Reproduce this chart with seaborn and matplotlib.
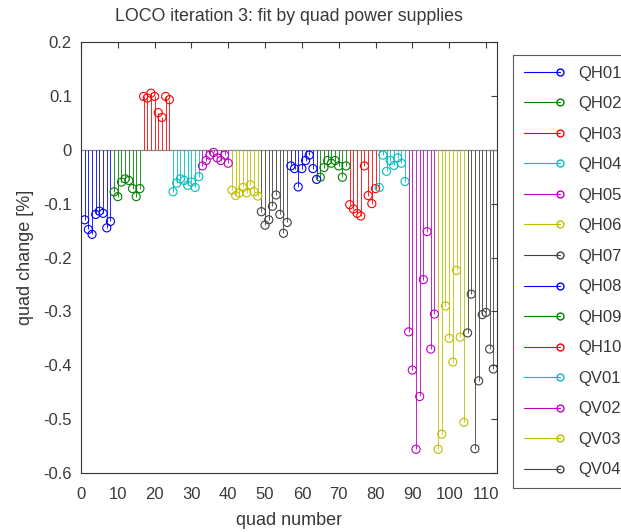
import numpy as np
import pandas as pd
import matplotlib
matplotlib.use("Agg")
import matplotlib.pyplot as plt
from matplotlib.lines import Line2D
from matplotlib.legend_handler import HandlerLine2DCompound
import seaborn as sns

# quad power supply families, 8 quads each
families = ["QH01", "QH02", "QH03", "QH04", "QH05", "QH06", "QH07",
            "QH08", "QH09", "QH10", "QV01", "QV02", "QV03", "QV04"]

qh01 = [-0.13, -0.148, -0.157, -0.12, -0.114, -0.118, -0.145, -0.133]
qh02 = [-0.078, -0.087, -0.06, -0.054, -0.057, -0.072, -0.087, -0.072]
qh03 = [0.099, 0.096, 0.105, 0.099, 0.069, 0.06, 0.099, 0.093]
qh04 = [-0.078, -0.062, -0.054, -0.057, -0.066, -0.06, -0.07, -0.05]
qh05 = [-0.03, -0.02, -0.01, -0.005, -0.015, -0.02, -0.01, -0.025]
qh06 = [-0.075, -0.085, -0.08, -0.07, -0.08, -0.065, -0.078, -0.086]
qh07 = [-0.115, -0.14, -0.13, -0.105, -0.084, -0.12, -0.155, -0.135]
qh08 = [-0.03, -0.035, -0.069, -0.035, -0.02, -0.01, -0.035, -0.055]
qh09 = [-0.051, -0.033, -0.02, -0.025, -0.02, -0.03, -0.051, -0.03]
qh10 = [-0.102, -0.11, -0.118, -0.123, -0.03, -0.085, -0.1, -0.072]
qv01 = [-0.07, -0.01, -0.04, -0.02, -0.029, -0.015, -0.025, -0.059]
qv02 = [-0.338, -0.409, -0.556, -0.458, -0.241, -0.152, -0.37, -0.305]
qv03 = [-0.556, -0.528, -0.29, -0.35, -0.394, -0.224, -0.348, -0.506]
qv04 = [-0.34, -0.268, -0.555, -0.429, -0.306, -0.302, -0.37, -0.407]

values = [qh01, qh02, qh03, qh04, qh05, qh06, qh07,
          qh08, qh09, qh10, qv01, qv02, qv03, qv04]

x_ticks = list(range(0, 111, 10))
y_ticks = [0.2, 0.1, 0, -0.1, -0.2, -0.3, -0.4, -0.5, -0.6]
y_tick_labels = ["0.2", "0.1", "0", "-0.1", "-0.2", "-0.3", "-0.4", "-0.5", "-0.6"]

# classic colour order, cycled over the families
color_order = [(0, 0, 1), (0, 0.5, 0), (1, 0, 0), (0, 0.75, 0.75),
               (0.75, 0, 0.75), (0.75, 0.75, 0), (0.25, 0.25, 0.25)]
palette = {f: color_order[i % len(color_order)] for i, f in enumerate(families)}

rows = []
quad = 1
for fam, vals in zip(families, values):
    for v in vals:
        rows.append({"quad": quad, "change": v, "family": fam})
        quad += 1
df = pd.DataFrame(rows)

sns.set_style("white")
plt.rcParams["font.family"] = ["Liberation Sans", "DejaVu Sans"]
text_col = "#383838"

fig = plt.figure(figsize=(6.21, 5.32), dpi=100)
ax = fig.add_axes([81 / 621, 1 - 473 / 532, 416 / 621, 431 / 532])

# stems
for fam in families:
    sub = df[df["family"] == fam]
    ax.vlines(sub["quad"], 0, sub["change"], colors=[palette[fam]], linewidth=0.6, zorder=2)

# baseline
ax.axhline(0, color=(0.55, 0.55, 0.55), linewidth=0.9, zorder=1)

# open circle heads
sns.scatterplot(data=df, x="quad", y="change", hue="family", palette=palette,
                marker="o", s=34, legend=False, ax=ax, zorder=3, linewidth=0.8)
pts = ax.collections[-1]
pts.set_edgecolors(pts.get_facecolors())
pts.set_facecolors("none")

ax.set_xlim(0, 113)
ax.set_ylim(-0.6, 0.2)
ax.set_xticks(x_ticks)
ax.set_yticks(y_ticks)
ax.set_yticklabels(y_tick_labels)
ax.tick_params(direction="in", length=4, width=0.8, top=True, right=True,
               labelsize=12, colors="#3a3a3a")
ax.tick_params(axis="x", pad=10)
ax.tick_params(axis="y", pad=6.5)
for s in ax.spines.values():
    s.set_visible(True)
    s.set_color("#333333")
    s.set_linewidth(0.8)
ax.set_xlabel("quad number", fontsize=13, color=text_col, labelpad=7)
ax.set_ylabel("quad change [%]", fontsize=13, color=text_col, labelpad=7)
ax.set_title("LOCO iteration 3: fit by quad power supplies", fontsize=12.8,
             color=text_col, pad=15)


class StemHandler(HandlerLine2DCompound):
    """Legend entry: a short line ending in the marker."""
    def get_xdata(self, legend, xdescent, ydescent, width, height, fontsize):
        xdata = np.array([-xdescent, -xdescent + width])
        return xdata, np.array([-xdescent + width])


handles = [Line2D([0], [0], color=palette[f], linewidth=0.8, marker="o",
                  markersize=5, markerfacecolor="none", markeredgecolor=palette[f])
           for f in families]
leg = fig.legend(handles, families, loc="upper left",
                 bbox_to_anchor=(513 / 621, 1 - 55 / 532), frameon=True,
                 fancybox=False, fontsize=12, labelspacing=0.93, handlelength=2.15,
                 handletextpad=1.1, borderpad=0.65, borderaxespad=0,
                 handler_map={Line2D: StemHandler()})
leg.get_frame().set_edgecolor("#333333")
leg.get_frame().set_linewidth(0.8)
for t in leg.get_texts():
    t.set_color(text_col)

fig.savefig("out.png", dpi=100)
